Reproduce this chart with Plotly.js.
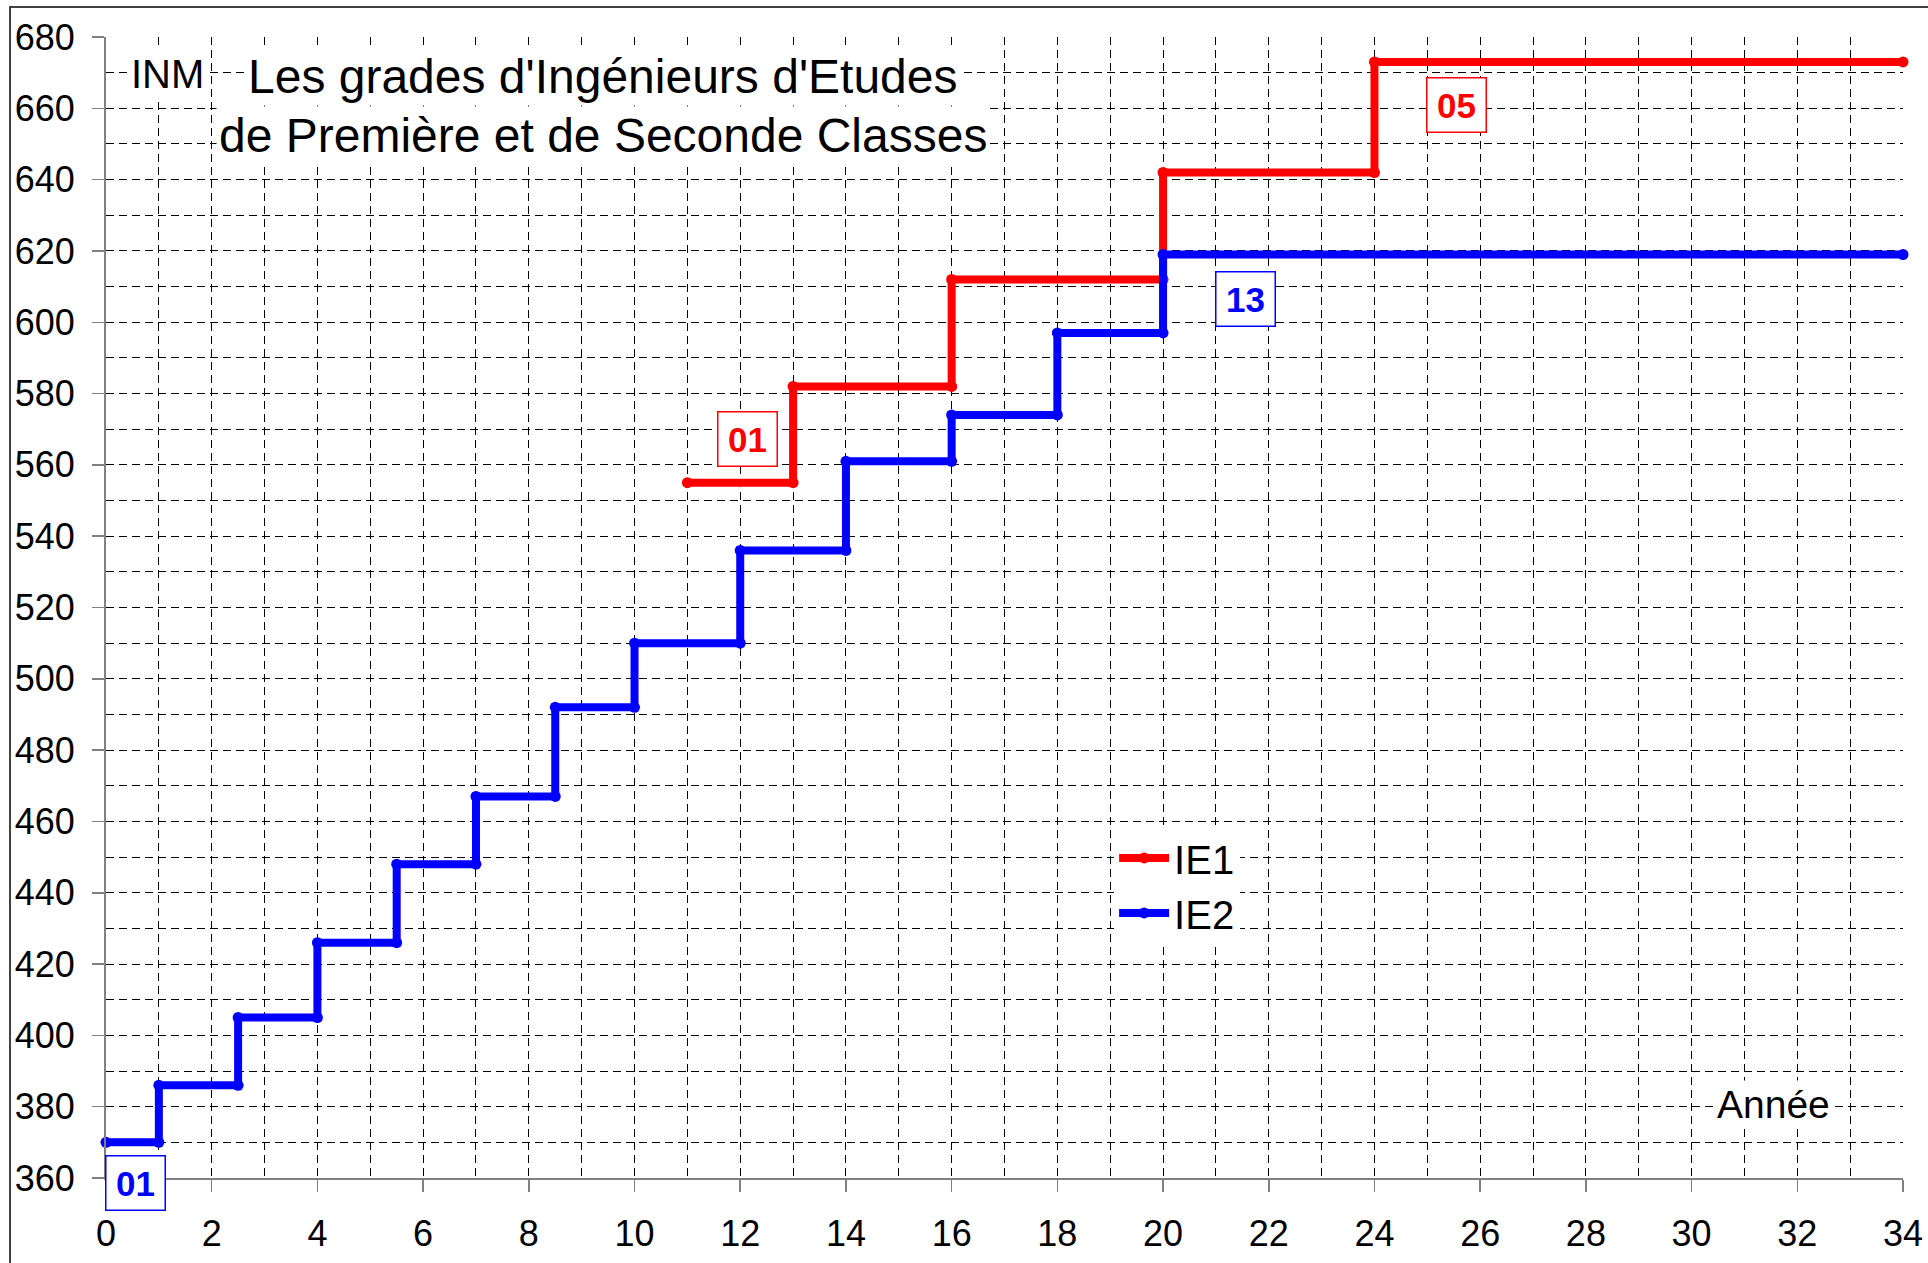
<!DOCTYPE html>
<html>
<head>
<meta charset="utf-8">
<script src="https://cdn.plot.ly/plotly-3.0.1.min.js"></script>
<style>html,body{margin:0;padding:0;background:#fff;}#chart{width:1928px;height:1263px;}</style>
</head>
<body>
<div id="chart"></div>
<script>
// Echelon start years and INM values
var ie1Starts = [11, 13, 16, 20, 24];
var ie1Inm = [555, 582, 612, 642, 673];
var ie2Starts = [0, 1, 2.5, 4, 5.5, 7, 8.5, 10, 12, 14, 16, 18, 20];
var ie2Inm = [370, 386, 405, 426, 448, 467, 492, 510, 536, 561, 574, 597, 619];
var endYear = 34;
var seriesNames = ["IE1", "IE2"];
var xTickVals = [0, 2, 4, 6, 8, 10, 12, 14, 16, 18, 20, 22, 24, 26, 28, 30, 32, 34];
var yTickVals = [360, 380, 400, 420, 440, 460, 480, 500, 520, 540, 560, 580, 600, 620, 640, 660, 680];
var titleLines = ["Les grades d'Ingénieurs d'Etudes", "de Première et de Seconde Classes"];

var X_RANGE = [0, 34], Y_RANGE = [360, 680];

function steps(starts, vals, end) {
  var xs = [], ys = [];
  for (var i = 0; i < starts.length; i++) {
    var nx = (i + 1 < starts.length) ? starts[i + 1] : end;
    xs.push(starts[i]); ys.push(vals[i]);
    xs.push(nx); ys.push(vals[i]);
  }
  return {x: xs, y: ys};
}
var s1 = steps(ie1Starts, ie1Inm, endYear);
var s2 = steps(ie2Starts, ie2Inm, endYear);

var FONT = "Arial, 'Liberation Sans', sans-serif";
var RED = "#FF0000", BLUE = "#0000FF";

var traces = [
  {x: s1.x, y: s1.y, name: seriesNames[0], mode: "lines+markers", cliponaxis: false,
   line: {color: RED, width: 8}, marker: {color: RED, size: 11}},
  {x: s2.x, y: s2.y, name: seriesNames[1], mode: "lines+markers", cliponaxis: false,
   line: {color: BLUE, width: 8}, marker: {color: BLUE, size: 11}}
];

// Box labels positioned in paper coordinates converted from data values (so ones outside range still show)
function boxLabel(txt, x, y, col) {
  return {text: "<b>" + txt + "</b>",
    x: (x - X_RANGE[0]) / (X_RANGE[1] - X_RANGE[0]),
    y: (y - Y_RANGE[0]) / (Y_RANGE[1] - Y_RANGE[0]),
    xref: "paper", yref: "paper", showarrow: false,
    xanchor: "center", yanchor: "middle",
    font: {family: FONT, size: 35, color: col}, bgcolor: "#fff", bordercolor: col,
    borderwidth: 1.5, borderpad: 5, width: 48, height: 43};
}
function plainText(txt, x, y, size, pad) {
  return {text: txt, xref: "paper", yref: "paper", x: x, y: y, xanchor: "center", yanchor: "middle",
    showarrow: false, font: {family: FONT, size: size, color: "#000"}, bgcolor: "#fff", borderpad: pad};
}

var layout = {
  width: 1928, height: 1263,
  margin: {l: 106, r: 25, t: 37, b: 85},
  paper_bgcolor: "#fff", plot_bgcolor: "#fff",
  showlegend: true,
  legend: {x: 0.561, y: 0.309, xanchor: "left", yanchor: "top", bgcolor: "#fff", itemwidth: 50,
    font: {family: FONT, size: 40, color: "#000"}, tracegroupgap: 0},
  xaxis: {range: X_RANGE, tickvals: xTickVals, ticks: "outside", ticklen: 12, tickcolor: "#808080",
    tickwidth: 1.5, showline: true, linecolor: "#808080", linewidth: 2,
    showgrid: true, gridcolor: "#000", griddash: "8px,5px", gridwidth: 1, zeroline: false,
    tickfont: {family: FONT, size: 36, color: "#000"}, ticklabelstandoff: 11,
    minor: {dtick: 1, showgrid: true, gridcolor: "#000", griddash: "8px,5px", gridwidth: 1}},
  yaxis: {range: Y_RANGE, tickvals: yTickVals, ticks: "outside", ticklen: 12, tickcolor: "#808080",
    tickwidth: 1.5, showline: true, linecolor: "#808080", linewidth: 2,
    showgrid: true, gridcolor: "#000", griddash: "8px,5px", gridwidth: 1, zeroline: false,
    tickfont: {family: FONT, size: 36, color: "#000"}, ticklabelstandoff: 10,
    minor: {dtick: 10, showgrid: true, gridcolor: "#000", griddash: "8px,5px", gridwidth: 1}},
  shapes: [
    {type: "rect", xref: "paper", yref: "paper", x0: -0.0534, x1: 1.2, y0: -0.3, y1: 1.0263,
     line: {color: "#404040", width: 2}, fillcolor: "rgba(0,0,0,0)", layer: "above"}
  ],
  annotations: [
    plainText(titleLines[0], 0.2763, 0.965, 48, 2),
    plainText(titleLines[1], 0.2763, 0.9141, 48, 2),
    plainText("INM", 0.0345, 0.9676, 40, 2),
    {text: "Année", xref: "x", yref: "y", x: 31.55, y: 380.75, xanchor: "center", yanchor: "middle",
     showarrow: false, font: {family: FONT, size: 39, color: "#000"}, bgcolor: "#fff", borderpad: 2},
    boxLabel("01", 12.13, 567.3, RED),
    boxLabel("05", 25.55, 660.8, RED),
    boxLabel("13", 21.56, 606.4, BLUE),
    boxLabel("01", 0.56, 358.5, BLUE)
  ]
};

Plotly.newPlot("chart", traces, layout, {staticPlot: true});
</script>
</body>
</html>
